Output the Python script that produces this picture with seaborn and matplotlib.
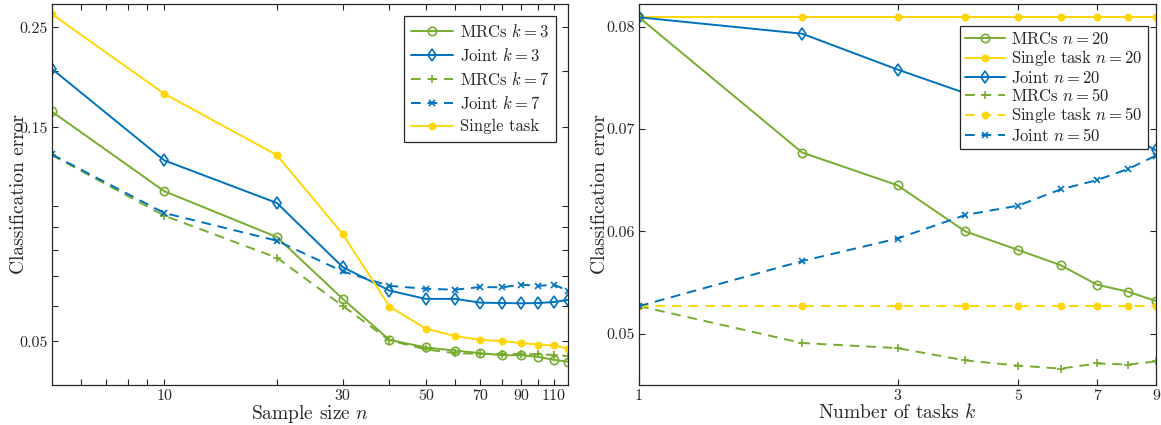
import numpy as np
import pandas as pd
import matplotlib
matplotlib.use("Agg")
import matplotlib.pyplot as plt
import seaborn as sns

# ---- data: classification error vs. sample size (left) ----
sample_sizes = [5, 10, 20, 30, 40, 50, 60, 70, 80, 90, 100, 110, 120]
mrc_k3 = [0.1626, 0.1080, 0.0854, 0.0622, 0.0504, 0.0485, 0.0477, 0.0471, 0.0466, 0.0466, 0.0462, 0.0455, 0.0451]
joint_k3 = [0.2024, 0.1265, 0.1017, 0.0732, 0.0649, 0.0622, 0.0622, 0.0610, 0.0609, 0.0608, 0.0609, 0.0612, 0.0619]
mrc_k7 = [0.1300, 0.0953, 0.0768, 0.0600, 0.0503, 0.0480, 0.0471, 0.0469, 0.0469, 0.0469, 0.0468, 0.0467, 0.0464]
joint_k7 = [0.1305, 0.0966, 0.0838, 0.0716, 0.0665, 0.0655, 0.0652, 0.0661, 0.0660, 0.0669, 0.0665, 0.0669, 0.0649]
single_task = [0.2680, 0.1780, 0.1300, 0.0867, 0.0598, 0.0534, 0.0514, 0.0504, 0.0501, 0.0496, 0.0492, 0.0490, 0.0482]

# ---- data: classification error vs. number of tasks (right) ----
num_tasks = [1, 2, 3, 4, 5, 6, 7, 8, 9]
mrc_n20 = [0.0809, 0.0677, 0.0645, 0.0600, 0.0582, 0.0567, 0.0548, 0.0541, 0.0532]
single_n20 = [0.0809] * 9
joint_n20 = [0.0809, 0.0793, 0.0758, 0.0735, 0.0722, 0.0712, 0.0703, 0.0694, 0.0679]
mrc_n50 = [0.0527, 0.0491, 0.0486, 0.0474, 0.0469, 0.0466, 0.0471, 0.0470, 0.0473]
single_n50 = [0.0527] * 9
joint_n50 = [0.0527, 0.0571, 0.0593, 0.0616, 0.0625, 0.0641, 0.0650, 0.0661, 0.0674]

left_xticks = [6, 7, 8, 9, 10, 20, 30, 40, 50, 60, 70, 80, 90, 100, 110]
left_xlabels = ["", "", "", "", "10", "", "30", "", "50", "", "70", "", "90", "", "110"]
left_yticks = [0.05, 0.06, 0.07, 0.08, 0.09, 0.10, 0.15, 0.20, 0.25]
left_ylabels = ["0.05", "", "", "", "", "", "0.15", "", "0.25"]
right_xticks = [1, 3, 5, 7, 9]
right_yticks = [0.05, 0.06, 0.07, 0.08]

GREEN = "#77AC30"
BLUE = "#0072BD"
YELLOW = "#FFD60A"

sns.set_style("ticks")
plt.rcParams.update({
    "font.family": ["cmr10", "DejaVu Serif"],
    "mathtext.fontset": "cm",
    "axes.formatter.use_mathtext": True,
    "axes.edgecolor": "#262626",
    "axes.linewidth": 0.9,
    "xtick.direction": "in",
    "ytick.direction": "in",
    "xtick.top": True,
    "ytick.right": True,
    "xtick.major.size": 4,
    "ytick.major.size": 4,
    "xtick.minor.size": 0,
    "ytick.minor.size": 0,
    "xtick.color": "#262626",
    "ytick.color": "#262626",
    "xtick.labelsize": 11.5,
    "ytick.labelsize": 11.5,
})

fig = plt.figure(figsize=(11.61, 4.25), dpi=100)
ax1 = fig.add_axes([0.0445, 0.0941, 0.4447, 0.8965])
ax2 = fig.add_axes([0.5504, 0.0941, 0.4453, 0.8965])

LW = 1.4
DASH = (0, (5, 3.5))


def draw(ax, x, y, color, marker, ls, label, ms=5, mew=1.2, filled=False):
    sns.lineplot(
        x=x, y=y, ax=ax, color=color, linewidth=LW, linestyle=ls,
        marker=marker, markersize=ms, markeredgewidth=mew,
        markerfacecolor=color if filled else "none",
        markeredgecolor=color, label=label, estimator=None, sort=False,
    )


# left panel
draw(ax1, sample_sizes, mrc_k3, GREEN, "o", "-", r"MRCs $k=3$", ms=6)
draw(ax1, sample_sizes, joint_k3, BLUE, "d", "-", r"Joint $k=3$", ms=6)
draw(ax1, sample_sizes, mrc_k7, GREEN, "+", DASH, r"MRCs $k=7$", ms=6)
draw(ax1, sample_sizes, joint_k7, BLUE, "x", DASH, r"Joint $k=7$", ms=4.5)
draw(ax1, sample_sizes, single_task, YELLOW, "o", "-", "Single task", ms=4.5, filled=True)

ax1.set_xscale("log")
ax1.set_yscale("log")
ax1.set_xlim(5, 120)
ax1.set_ylim(0.040, 0.282)
ax1.set_xticks(left_xticks)
ax1.set_xticklabels(left_xlabels)
ax1.set_yticks(left_yticks)
ax1.set_yticklabels(left_ylabels)
ax1.minorticks_off()
ax1.set_xlabel(r"Sample size $n$", fontsize=14, labelpad=0)
ax1.set_ylabel("Classification error", fontsize=14)
ax1.yaxis.set_label_coords(-0.046, 0.5)
ax1.tick_params(axis="both", pad=3)
leg1 = ax1.legend(loc="upper right", fontsize=12, frameon=True, fancybox=False,
                  edgecolor="#262626", framealpha=1, borderaxespad=0.7,
                  handlelength=2.5, labelspacing=0.42, borderpad=0.45, handletextpad=0.4)
leg1.get_frame().set_linewidth(0.9)

# right panel
draw(ax2, num_tasks, mrc_n20, GREEN, "o", "-", r"MRCs $n=20$", ms=6)
draw(ax2, num_tasks, single_n20, YELLOW, "o", "-", r"Single task $n=20$", ms=4.5, filled=True)
draw(ax2, num_tasks, joint_n20, BLUE, "d", "-", r"Joint $n=20$", ms=6)
draw(ax2, num_tasks, mrc_n50, GREEN, "+", DASH, r"MRCs $n=50$", ms=6)
draw(ax2, num_tasks, single_n50, YELLOW, "o", DASH, r"Single task $n=50$", ms=4.5, filled=True)
draw(ax2, num_tasks, joint_n50, BLUE, "x", DASH, r"Joint $n=50$", ms=4.5)

ax2.set_xscale("log")
ax2.set_xlim(1, 9)
ax2.set_ylim(0.045, 0.0822)
ax2.set_xticks(right_xticks)
ax2.set_xticklabels([str(v) for v in right_xticks])
ax2.set_yticks(right_yticks)
ax2.set_yticklabels(["0.05", "0.06", "0.07", "0.08"])
ax2.minorticks_off()
ax2.set_xlabel(r"Number of tasks $k$", fontsize=14, labelpad=0)
ax2.set_ylabel("Classification error", fontsize=14)
ax2.yaxis.set_label_coords(-0.058, 0.5)
ax2.tick_params(axis="both", pad=3)
leg2 = ax2.legend(loc="upper right", bbox_to_anchor=(0.984, 0.942), fontsize=12,
                  frameon=True, fancybox=False, edgecolor="#262626", framealpha=1,
                  borderaxespad=0.0, handlelength=2.4, labelspacing=0.08,
                  borderpad=0.3, handletextpad=0.4)
leg2.get_frame().set_linewidth(0.9)

for ax in (ax1, ax2):
    for side in ("top", "right"):
        ax.spines[side].set_visible(True)

fig.savefig("out.png", dpi=100)
